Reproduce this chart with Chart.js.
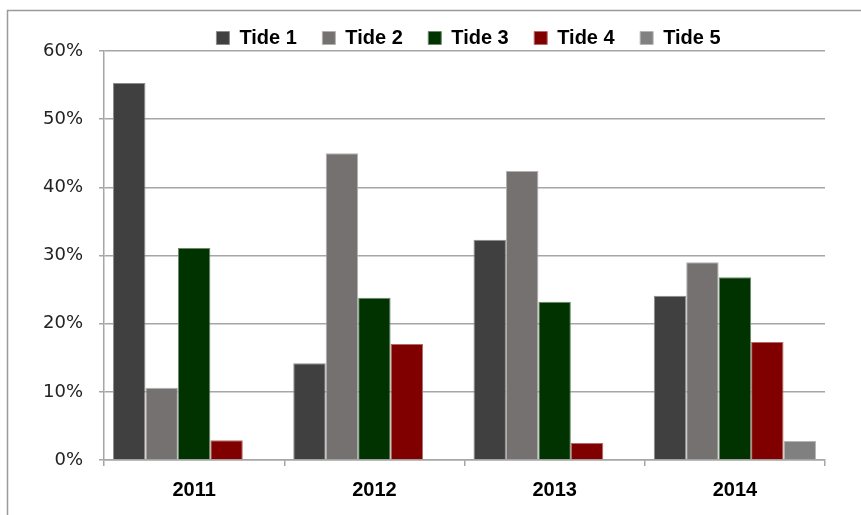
<!DOCTYPE html>
<html>
<head>
<meta charset="utf-8">
<script src="https://cdn.jsdelivr.net/npm/chart.js@4.4.1/dist/chart.umd.min.js"></script>
<style>
    html, body { margin: 0; padding: 0; background: #fff; }
    #wrap { width: 861px; height: 515px; position: relative; }
</style>
</head>
<body>
<div id="wrap"><canvas id="tideChart"></canvas></div>
<script>
// years on the x axis
const years = ["2011", "2012", "2013", "2014"];

// series names + values (percent)
const seriesNames = ["Tide 1", "Tide 2", "Tide 3", "Tide 4", "Tide 5"];
const tide1 = [55.3, 14.2, 32.3, 24.1];
const tide2 = [10.6, 45.0, 42.4, 29.0];
const tide3 = [31.1, 23.8, 23.2, 26.8];
const tide4 = [2.9, 17.0, 2.5, 17.3];
const tide5 = [0, 0, 0, 2.8];

// y axis ticks
const yTicks = [0, 10, 20, 30, 40, 50, 60];

const fills = ["#404040", "#767171", "#003300", "#800000", "#808080"];
const edges = ["#8c8c8c", "#b3b0b0", "#6a8a6a", "#b36a6a", "#b5b5b5"];

const allValues = [tide1, tide2, tide3, tide4, tide5];

const datasets = seriesNames.map((name, i) => ({
    label: name,
    data: allValues[i],
    backgroundColor: fills[i],
    borderColor: edges[i],
    borderWidth: 1,
    categoryPercentage: 0.9,
    barPercentage: 1.0
}));

const gridGray = "#a6a6a6";

// outer frame of the chart box
const framePlugin = {
    id: "frame",
    afterDraw(chart) {
        const ctx = chart.ctx;
        ctx.save();
        ctx.strokeStyle = "#9a9a9a";
        ctx.lineWidth = 1.5;
        ctx.beginPath();
        ctx.moveTo(7.5, 515);
        ctx.lineTo(7.5, 10.5);
        ctx.lineTo(861, 10.5);
        ctx.stroke();
        ctx.restore();
    }
};

// fixed legend height, legend row nudged right over the plot
const legendTweak = {
    id: "legendTweak",
    beforeUpdate(chart) {
        const lg = chart.legend;
        if (lg && !lg._fixed) {
            const fit = lg.fit;
            lg.fit = function () {
                fit.call(this);
                this.height = 51;
            };
            const draw = lg.draw;
            lg.draw = function () {
                const ctx = this.ctx;
                ctx.save();
                ctx.translate(56, 2.5);
                draw.call(this);
                ctx.restore();
            };
            lg._fixed = true;
        }
    }
};

new Chart(document.getElementById("tideChart"), {
    type: "bar",
    data: { labels: years, datasets: datasets },
    plugins: [legendTweak, framePlugin],
    options: {
        responsive: true,
        maintainAspectRatio: false,
        animation: false,
        layout: { padding: { left: 0, right: 36, top: 0, bottom: 0 } },
        plugins: {
            tooltip: { enabled: false },
            legend: {
                position: "top",
                labels: {
                    boxWidth: 13,
                    boxHeight: 13,
                    padding: 25.5,
                    color: "#000",
                    font: { family: "'Liberation Sans', Arial, sans-serif", size: 20, weight: "bold" }
                }
            }
        },
        scales: {
            x: {
                offset: true,
                grid: {
                    offset: true,
                    drawOnChartArea: false,
                    drawTicks: true,
                    tickLength: 6,
                    color: gridGray,
                    lineWidth: 1.5
                },
                border: { color: gridGray, width: 1.5 },
                ticks: {
                    color: "#000",
                    padding: 12,
                    font: { family: "'Liberation Sans', Arial, sans-serif", size: 20, weight: "bold" }
                },
                afterFit(scale) { scale.height = 55; }
            },
            y: {
                min: 0,
                max: 60,
                afterBuildTicks(scale) {
                    scale.ticks = yTicks.map(v => ({ value: v }));
                },
                grid: {
                    color: gridGray,
                    lineWidth: 1.5,
                    tickLength: 5
                },
                border: { color: gridGray, width: 1.5 },
                ticks: {
                    color: "#222",
                    padding: 16,
                    font: { family: "'DejaVu Sans', Verdana, sans-serif", size: 18 },
                    callback: v => v + "%"
                },
                afterFit(scale) { scale.width = 104; }
            }
        }
    }
});
</script>
</body>
</html>
